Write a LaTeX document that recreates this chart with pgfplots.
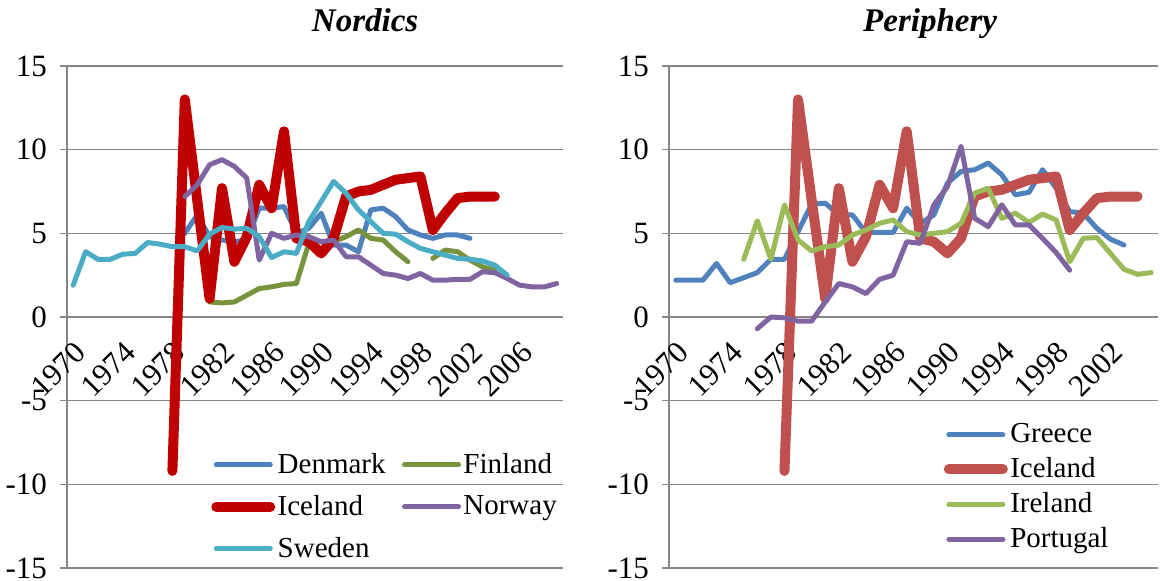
\documentclass[border=0pt]{standalone}
\usepackage{fontspec}
\setmainfont{Liberation Serif}
\usepackage{pgfplots}
\pgfplotsset{compat=1.18}

\definecolor{gridgray}{RGB}{134,134,134}
\definecolor{cDen}{RGB}{79,129,189}
\definecolor{cFin}{RGB}{119,147,60}
\definecolor{cIceN}{RGB}{192,0,0}
\definecolor{cNor}{RGB}{128,100,162}
\definecolor{cSwe}{RGB}{75,172,198}
\definecolor{cIceP}{RGB}{192,80,77}
\definecolor{cIre}{RGB}{155,187,89}

\pgfplotsset{
  panel/.style={
    scale only axis,
    height=251pt,
    ymin=-15, ymax=15,
    ytick={-15,-10,...,15},
    yticklabels={-15,-10,-5,0,5,10,15},
    axis x line*=middle, axis y line*=left,
    ymajorgrids,
    grid style={gridgray, line width=0.75pt},
    axis line style={gridgray, line width=0.75pt},
    tick align=outside,
    major tick length=3.5pt,
    minor tick length=3pt,
    ytick style={gridgray, line width=0.75pt},
    xtick style={draw=none},
    minor x tick style={gridgray, line width=0.75pt},
    ytick pos=left,
    yticklabel style={font=\fontsize{15.5}{18}\selectfont, xshift=-3pt},
    xticklabel style={font=\fontsize{15.5}{18}\selectfont, xshift=4.5pt, yshift=-11pt, rotate=45, anchor=east, inner sep=1pt},
    unbounded coords=jump,
    title style={font=\fontsize{16.5}{19}\selectfont\bfseries\itshape, anchor=base, yshift=11pt},
    legend cell align=left,
    legend image code/.code={\draw[#1] (0pt,0pt) -- (27pt,0pt);},
    every axis plot/.append style={line width=2.5pt, line join=round, line cap=round, mark=none},
  },
}

\begin{document}
\begin{tikzpicture}
\path[use as bounding box] (0,0) rectangle (580pt,290.5pt);

% ---------------- Nordics ----------------
\begin{axis}[panel,
  at={(33.5pt,6.5pt)}, anchor=south west,
  width=248pt,
  xmin=1969.5, xmax=2009.5,
  xtick={1970,1974,...,2006},
  xticklabels={1970,1974,1978,1982,1986,1990,1994,1998,2002,2006},
  minor xtick={1969.5,1970.5,...,2009.5},
  title={Nordics},
  title style={at={(axis description cs:0.601,1)}},
  legend columns=2,
  legend style={draw=none, fill=none, font=\fontsize{14.5}{17}\selectfont,
    at={(axis description cs:0.278,0.242)}, anchor=north west,
    row sep=7pt,
    nodes={inner sep=1.2pt},
    /tikz/every even column/.append style={column sep=7pt}},
]
\addplot[cDen] coordinates {
(1979,5.0) (1980,6.1) (1981,4.8) (1982,4.6) (1983,4.5) (1984,4.6) (1985,6.5) (1986,6.5)
(1987,6.6) (1988,5.0) (1989,5.3) (1990,6.2) (1991,4.3) (1992,4.3) (1993,3.9) (1994,6.4)
(1995,6.5) (1996,6.0) (1997,5.2) (1998,4.9) (1999,4.7) (2000,4.9) (2001,4.9) (2002,4.7)};
\addlegendentry{Denmark}
\addplot[cFin] coordinates {
(1981,0.9) (1982,0.84) (1983,0.9) (1984,1.3) (1985,1.7) (1986,1.8) (1987,1.95) (1988,2.0)
(1989,4.4) (1990,4.5) (1991,4.5) (1992,4.8) (1993,5.2) (1994,4.7) (1995,4.6) (1996,3.9)
(1997,3.3) (1998,nan) (1999,3.5) (2000,4.0) (2001,3.9) (2002,3.4) (2003,3.0) (2004,2.8)};
\addlegendentry{Finland}
\addplot[cIceN, line width=5pt] coordinates {
(1978,-9.2) (1979,13.0) (1980,7.0) (1981,1.1) (1982,7.7) (1983,3.3) (1984,4.8) (1985,7.9)
(1986,6.5) (1987,11.1) (1988,4.7) (1989,4.5) (1990,3.8) (1991,4.7) (1992,7.2) (1993,7.5)
(1994,7.6) (1995,7.9) (1996,8.2) (1997,8.3) (1998,8.4) (1999,5.2) (2000,6.2) (2001,7.1)
(2002,7.2) (2003,7.2) (2004,7.2)};
\addlegendentry{Iceland}
\addplot[cNor] coordinates {
(1979,7.2) (1980,7.9) (1981,9.1) (1982,9.4) (1983,9.0) (1984,8.3) (1985,3.4) (1986,5.0)
(1987,4.7) (1988,4.9) (1989,4.8) (1990,4.5) (1991,4.6) (1992,3.6) (1993,3.6) (1994,3.1)
(1995,2.6) (1996,2.5) (1997,2.3) (1998,2.6) (1999,2.2) (2000,2.2) (2001,2.25) (2002,2.25)
(2003,2.7) (2004,2.65) (2005,2.3) (2006,1.9) (2007,1.8) (2008,1.8) (2009,2.0)};
\addlegendentry{Norway}
\addplot[cSwe] coordinates {
(1970,1.9) (1971,3.9) (1972,3.45) (1973,3.45) (1974,3.75) (1975,3.8) (1976,4.45) (1977,4.35)
(1978,4.2) (1979,4.2) (1980,3.95) (1981,4.95) (1982,5.35) (1983,5.25) (1984,5.3) (1985,4.8)
(1986,3.55) (1987,3.9) (1988,3.8) (1989,5.7) (1990,6.9) (1991,8.1) (1992,7.4) (1993,6.4)
(1994,5.7) (1995,5.0) (1996,4.95) (1997,4.5) (1998,4.1) (1999,3.9) (2000,3.7) (2001,3.5)
(2002,3.45) (2003,3.35) (2004,3.1) (2005,2.5)};
\addlegendentry{Sweden}
\end{axis}

% ---------------- Periphery ----------------
\begin{axis}[panel,
  at={(334.5pt,6.5pt)}, anchor=south west,
  width=244.5pt,
  xmin=1969.5, xmax=2005.5,
  xtick={1970,1974,...,2002},
  xticklabels={1970,1974,1978,1982,1986,1990,1994,1998,2002},
  minor xtick={1969.5,1970.5,...,2005.5},
  title={Periphery},
  title style={at={(axis description cs:0.534,1)}},
  legend columns=1,
  legend style={draw=none, fill=none, font=\fontsize{14.5}{17}\selectfont,
    at={(axis description cs:0.549,0.301)}, anchor=north west,
    row sep=3.5pt,
    nodes={inner sep=1.2pt}},
]
\addplot[cDen] coordinates {
(1970,2.2) (1971,2.2) (1972,2.2) (1973,3.2) (1974,2.05) (1975,2.35) (1976,2.65) (1977,3.45)
(1978,3.45) (1979,5.1) (1980,6.75) (1981,6.8) (1982,6.1) (1983,6.1) (1984,5.05) (1985,5.05)
(1986,5.05) (1987,6.5) (1988,5.6) (1989,6.1) (1990,8.0) (1991,8.7) (1992,8.8) (1993,9.2)
(1994,8.5) (1995,7.3) (1996,7.45) (1997,8.8) (1998,7.7) (1999,6.3) (2000,6.2) (2001,5.3)
(2002,4.65) (2003,4.3)};
\addlegendentry{Greece}
\addplot[cIceP, line width=5pt] coordinates {
(1978,-9.2) (1979,13.0) (1980,7.0) (1981,1.1) (1982,7.7) (1983,3.3) (1984,4.8) (1985,7.9)
(1986,6.5) (1987,11.1) (1988,4.7) (1989,4.5) (1990,3.8) (1991,4.7) (1992,7.2) (1993,7.5)
(1994,7.6) (1995,7.9) (1996,8.2) (1997,8.3) (1998,8.4) (1999,5.2) (2000,6.2) (2001,7.1)
(2002,7.2) (2003,7.2) (2004,7.2)};
\addlegendentry{Iceland}
\addplot[cIre] coordinates {
(1975,3.45) (1976,5.75) (1977,3.45) (1978,6.7) (1979,4.6) (1980,3.95) (1981,4.2) (1982,4.3)
(1983,4.9) (1984,5.2) (1985,5.6) (1986,5.8) (1987,5.1) (1988,4.9) (1989,5.0) (1990,5.1)
(1991,5.6) (1992,7.4) (1993,7.7) (1994,5.9) (1995,6.2) (1996,5.65) (1997,6.15) (1998,5.8)
(1999,3.3) (2000,4.7) (2001,4.75) (2002,3.8) (2003,2.85) (2004,2.55) (2005,2.65)};
\addlegendentry{Ireland}
\addplot[cNor] coordinates {
(1976,-0.7) (1977,0.0) (1978,-0.05) (1979,-0.25) (1980,-0.25) (1981,0.9) (1982,2.0) (1983,1.8)
(1984,1.4) (1985,2.25) (1986,2.5) (1987,4.5) (1988,4.4) (1989,6.7) (1990,7.8) (1991,10.2)
(1992,5.9) (1993,5.4) (1994,6.7) (1995,5.5) (1996,5.5) (1997,4.7) (1998,3.85) (1999,2.8)};
\addlegendentry{Portugal}
\end{axis}
\end{tikzpicture}
\end{document}
